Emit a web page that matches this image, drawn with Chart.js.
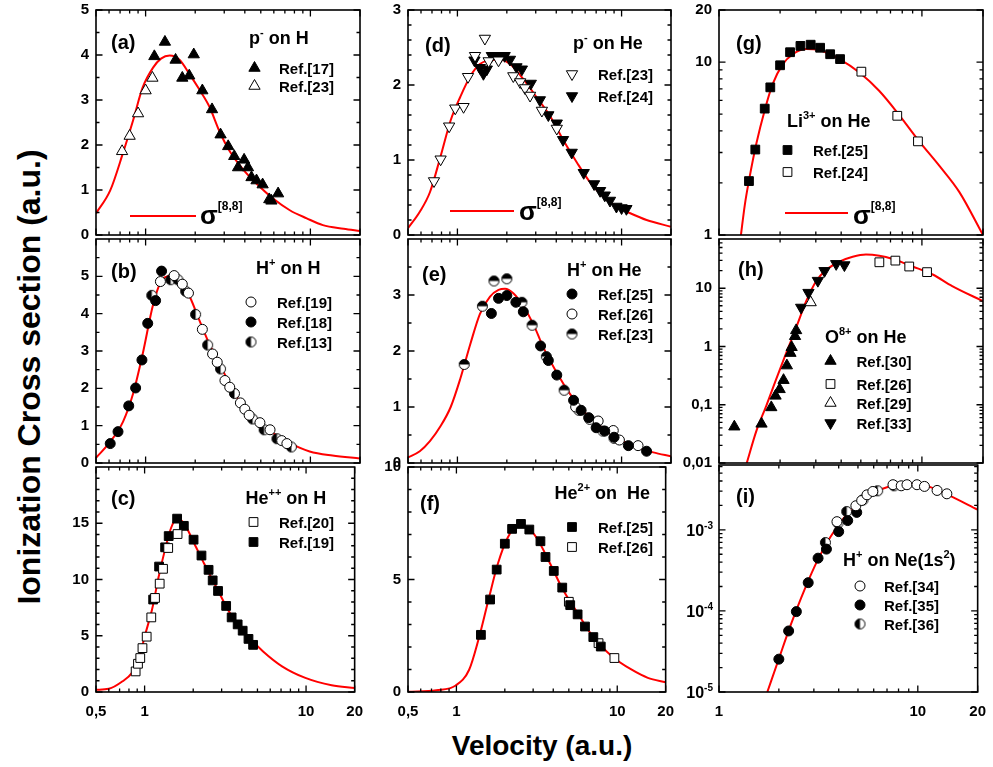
<!DOCTYPE html>
<html>
<head>
<meta charset="utf-8">
<title>Ionization cross sections</title>
<script src="https://cdn.jsdelivr.net/npm/chart.js@4.4.1/dist/chart.umd.min.js"></script>
<style>
  html, body { margin: 0; padding: 0; background: #fff; }
  #page { position: relative; width: 993px; height: 767px; overflow: hidden;
          font-family: "Liberation Sans", Arial, sans-serif; font-weight: bold; color: #000; }
  .panel { position: absolute; }
  #ytitle { position: absolute; left: 29px; top: 377px; transform: translate(-50%, -50%) rotate(-90deg);
            font-size: 32px; white-space: nowrap; }
  #xtitle { position: absolute; left: 542px; top: 746px; transform: translate(-50%, -50%);
            font-size: 28px; white-space: nowrap; }
</style>
</head>
<body>
<div id="page">
  <div id="ytitle">Ionization Cross section (a.u.)</div>
  <div id="xtitle">Velocity (a.u.)</div>
</div>
<script>
const FONT = '"Liberation Sans", Arial, sans-serif';

// ---- tick labels ----
const velTicks = [0.5, 1, 10, 20];
const velTicksFrom1 = [1, 10, 20];
const aTicks = [0, 1, 2, 3, 4, 5];
const bTicks = [0, 1, 2, 3, 4, 5];
const cTicks = [0, 5, 10, 15];
const dTicks = [0, 1, 2, 3];
const eTicks = [0, 1, 2, 3];
const fTicks = [0, 5, 10];
const gTicks = [1, 10, 20];
const hTicks = [0.01, 0.1, 1, 10];
const iTicks = [1e-5, 1e-4, 1e-3];
const iTickLabels = ['10^{-5}', '10^{-4}', '10^{-3}'];

// ---- (a) p- on H ----
const aRef17V = [1.13, 1.31, 1.52, 1.67, 1.84, 1.96, 2.21, 2.53, 2.85, 3.17, 3.45, 3.64, 3.96, 4.18, 4.39, 4.71, 5.13, 5.63, 5.8, 6.37];
const aRef17S = [3.97, 4.29, 3.89, 3.49, 3.54, 4.01, 3.21, 2.79, 2.23, 1.97, 1.75, 1.50, 1.67, 1.50, 1.28, 1.21, 1.12, 0.79, 0.76, 0.92];
const aRef23V = [0.72, 0.80, 0.90, 1.0, 1.10];
const aRef23S = [1.86, 2.2, 2.70, 3.21, 3.49];
const aCurveV = [0.5, 0.61, 0.73, 0.84, 0.96, 1.11, 1.24, 1.40, 1.60, 1.85, 2.13, 2.44, 2.81, 3.24, 3.90, 4.72, 5.94, 7.5, 9.5, 11.9, 15.9, 20];
const aCurveS = [0.48, 0.99, 1.83, 2.55, 3.28, 3.72, 3.92, 3.99, 3.90, 3.57, 3.22, 2.85, 2.30, 1.86, 1.46, 1.14, 0.81, 0.55, 0.37, 0.22, 0.14, 0.09];

// ---- (b) H+ on H ----
const bRef19V = [1.23, 1.49, 1.67, 1.82, 2.21, 2.55, 2.72, 3.03, 3.24, 3.76, 4.0, 4.25, 4.94, 5.69, 6.7, 7.2];
const bRef19S = [4.86, 5.02, 4.79, 4.55, 3.58, 2.92, 2.70, 2.21, 2.03, 1.61, 1.44, 1.28, 1.08, 0.89, 0.60, 0.52];
const bRef18V = [0.61, 0.68, 0.79, 0.87, 0.95, 1.03, 1.15, 1.25];
const bRef18S = [0.52, 0.84, 1.53, 2.01, 2.76, 3.74, 4.35, 5.14];
const bRef13V = [1.09, 1.42, 1.57, 1.75, 2.01, 2.38, 2.85, 3.46, 4.46, 5.24, 6.27, 7.66];
const bRef13S = [4.49, 4.91, 4.91, 4.60, 3.98, 3.16, 2.52, 1.86, 1.18, 0.89, 0.65, 0.43];
const bCurveV = [0.5, 0.6, 0.73, 0.84, 0.96, 1.11, 1.24, 1.40, 1.60, 1.85, 2.13, 2.44, 2.81, 3.24, 3.90, 4.72, 5.94, 7.5, 9.9, 13.6, 20];
const bCurveS = [0.14, 0.53, 1.11, 1.86, 2.92, 4.24, 4.86, 5.01, 4.91, 4.46, 3.80, 3.18, 2.65, 2.12, 1.50, 1.11, 0.80, 0.53, 0.31, 0.2, 0.12];

// ---- (c) He++ on H ----
const cRef20V = [0.88, 0.91, 0.94, 0.97, 1.03, 1.10, 1.16, 1.24, 1.30, 1.40, 1.60];
const cRef20S = [1.83, 2.51, 3.02, 3.9, 4.92, 6.63, 8.36, 9.63, 10.95, 12.8, 14.04];
const cRef19V = [1.13, 1.23, 1.34, 1.41, 1.59, 1.75, 2.01, 2.25, 2.49, 2.64, 2.85, 3.2, 3.46, 3.77, 4.05, 4.4, 4.7];
const cRef19S = [8.22, 11.15, 12.86, 13.86, 15.41, 14.77, 13.54, 12.13, 10.86, 9.92, 8.98, 7.65, 6.63, 6.01, 5.45, 4.72, 4.19];
const cCurveV = [0.5, 0.6, 0.73, 0.84, 0.92, 1.0, 1.11, 1.22, 1.34, 1.46, 1.59, 1.77, 2.03, 2.34, 2.81, 3.39, 4.29, 5.42, 7.1, 9.9, 14.4, 20];
const cCurveS = [0.2, 0.28, 0.95, 1.75, 2.87, 4.92, 7.28, 10.2, 12.7, 14.6, 15.5, 14.9, 13.2, 11.4, 9.19, 6.98, 5.07, 3.6, 2.28, 1.25, 0.6, 0.35];

// ---- (d) p- on He ----
const dRef23V = [0.72, 0.79, 0.89, 0.97, 1.09, 1.16, 1.28, 1.47, 1.55, 1.78, 2.19, 2.41, 2.58, 2.77, 3.27, 4.03];
const dRef23S = [0.72, 1.01, 1.45, 1.69, 1.71, 2.11, 2.39, 2.62, 2.32, 2.33, 2.12, 2.04, 1.96, 1.86, 1.66, 1.42];
const dRef24V = [1.27, 1.37, 1.44, 1.51, 1.62, 1.73, 1.85, 1.94, 2.09, 2.29, 2.47, 2.80, 3.18, 3.58, 4.03, 4.4, 4.97, 5.88, 6.8, 7.4, 7.9, 8.5, 9.3, 10.0, 10.7];
const dRef24S = [2.33, 2.23, 2.15, 2.21, 2.39, 2.39, 2.39, 2.39, 2.34, 2.24, 2.21, 2.02, 1.80, 1.60, 1.49, 1.27, 1.10, 0.83, 0.68, 0.59, 0.53, 0.46, 0.38, 0.36, 0.35];
const dCurveV = [0.5, 0.59, 0.68, 0.79, 0.91, 1.04, 1.20, 1.37, 1.58, 1.81, 2.09, 2.52, 3.03, 3.68, 4.4, 5.33, 6.44, 7.75, 9.3, 11.3, 14.2, 20];
const dCurveS = [0.09, 0.31, 0.57, 1.05, 1.53, 1.84, 2.12, 2.28, 2.33, 2.34, 2.28, 2.08, 1.84, 1.58, 1.27, 0.97, 0.70, 0.51, 0.38, 0.29, 0.20, 0.11];

// ---- (e) H+ on He ----
const eRef25V = [1.61, 1.78, 2.0, 2.27, 2.52, 3.21, 3.58, 4.03, 5.1, 5.67, 6.3, 7.0, 7.9, 9.0, 11.0, 14.2];
const eRef25S = [2.67, 2.94, 2.99, 2.87, 2.70, 2.09, 1.83, 1.57, 1.12, 0.94, 0.81, 0.63, 0.57, 0.46, 0.31, 0.21];
const eRef26V = [5.25, 7.2, 8.9, 9.7, 12.6];
const eRef26S = [1.00, 0.75, 0.58, 0.41, 0.31];
const eRef23V = [1.10, 1.42, 1.67, 2.0, 2.47, 2.85, 3.48, 4.47, 5.5, 6.4, 7.7, 9.0];
const eRef23S = [1.76, 2.80, 3.25, 3.29, 2.87, 2.46, 1.90, 1.30, 0.94, 0.78, 0.57, 0.44];
const eCurveV = [0.5, 0.59, 0.68, 0.79, 0.91, 1.04, 1.20, 1.37, 1.58, 1.78, 1.95, 2.19, 2.52, 2.9, 3.33, 4.03, 4.86, 5.88, 7.4, 9.3, 12.4, 15.6, 20];
const eCurveS = [0.10, 0.21, 0.39, 0.66, 1.00, 1.50, 2.13, 2.66, 2.97, 3.09, 3.11, 3.03, 2.80, 2.48, 2.07, 1.61, 1.23, 0.92, 0.66, 0.45, 0.28, 0.19, 0.12];

// ---- (f) He2+ on He ----
const fRef25V = [1.42, 1.62, 1.78, 2.0, 2.22, 2.52, 2.84, 3.33, 3.58, 4.03, 4.55, 5.1, 5.67, 6.3, 7.1, 7.9];
const fRef25S = [2.54, 4.11, 5.44, 6.59, 7.25, 7.47, 7.22, 6.70, 6.0, 5.38, 4.64, 3.86, 3.45, 2.91, 2.44, 2.02];
const fRef26V = [5.0, 7.65, 9.6];
const fRef26S = [4.01, 2.17, 1.51];
const fCurveV = [0.5, 0.75, 0.99, 1.20, 1.37, 1.58, 1.81, 2.09, 2.41, 2.77, 3.18, 3.83, 4.61, 5.6, 7.06, 9.3, 12.3, 15.5, 20];
const fCurveS = [0.01, 0.08, 0.29, 0.99, 2.32, 4.08, 5.7, 6.88, 7.39, 7.32, 6.81, 5.7, 4.53, 3.57, 2.46, 1.58, 0.99, 0.63, 0.43];

// ---- (g) Li3+ on He ----
const gRef25V = [1.405, 1.51, 1.68, 1.79, 2.0, 2.24, 2.52, 2.83, 3.15, 3.53, 3.95];
const gRef25S = [2.05, 3.12, 5.38, 7.14, 9.58, 11.4, 12.4, 12.6, 12.1, 11.1, 10.4];
const gRef24V = [5.03, 7.56, 9.56];
const gRef24S = [8.8, 4.89, 3.48];
const gCurveV = [1.28, 1.34, 1.41, 1.53, 1.68, 1.84, 2.06, 2.31, 2.69, 3.13, 3.92, 4.92, 6.17, 7.73, 9.7, 12.2, 15.3, 20];
const gCurveS = [0.98, 1.49, 2.11, 3.4, 5.27, 7.47, 9.7, 11.1, 11.9, 11.7, 10.4, 8.7, 6.8, 4.94, 3.48, 2.51, 1.77, 1.0];

// ---- (h) O8+ on He ----
const hRef30V = [1.19, 1.62, 1.81, 1.90, 1.99, 2.08, 2.16, 2.25, 2.28, 2.37, 2.40];
const hRef30S = [0.042, 0.047, 0.090, 0.142, 0.184, 0.264, 0.47, 0.77, 0.97, 1.50, 1.89];
const hRef26V = [6.17, 7.4, 8.66, 10.6];
const hRef26S = [27.9, 29.8, 23.6, 18.9];
const hRef29V = [2.83];
const hRef29S = [5.7];
const hRef33V = [2.54, 2.76, 3.07, 3.31, 3.78, 4.15];
const hRef33S = [4.67, 8.4, 13.5, 19.9, 26.2, 25];
const hCurveV = [1.37, 1.53, 1.71, 1.91, 2.14, 2.40, 2.69, 3.01, 3.37, 3.92, 4.56, 5.3, 6.17, 7.18, 9.0, 11.3, 14.1, 20];
const hCurveS = [0.01, 0.036, 0.096, 0.27, 0.76, 2.1, 6.0, 13.2, 20.5, 28.5, 34.6, 37.8, 36, 31.7, 23.6, 17.2, 10.9, 6.0];

// ---- (i) H+ on Ne(1s2) ----
const iRef34V = [3.92, 4.88, 5.22, 5.55, 5.94, 7.5, 8.25, 8.82, 9.9, 10.8, 12.5, 14.0];
const iRef34S = [1.26e-3, 1.98e-3, 2.3e-3, 2.7e-3, 2.97e-3, 3.6e-3, 3.49e-3, 3.6e-3, 3.6e-3, 3.43e-3, 3.06e-3, 2.78e-3];
const iRef35V = [2.0, 2.24, 2.45, 2.81, 3.15, 3.47, 4.0, 4.44, 4.93];
const iRef35S = [2.54e-5, 5.66e-5, 9.8e-5, 2.23e-4, 4.47e-4, 5.78e-4, 9.5e-4, 1.30e-3, 1.64e-3];
const iRef36V = [3.43, 3.97, 4.39, 5.3, 6.28, 7.6];
const iRef36S = [6.97e-4, 1.21e-3, 1.68e-3, 2.34e-3, 3.03e-3, 3.49e-3];
const iCurveV = [1.75, 1.99, 2.31, 2.69, 3.13, 3.64, 4.24, 4.93, 5.94, 7.18, 9.0, 11.3, 14.1, 20];
const iCurveS = [1.0e-5, 2.48e-5, 7.0e-5, 1.82e-4, 4.2e-4, 8.2e-4, 1.39e-3, 2.02e-3, 2.83e-3, 3.43e-3, 3.7e-3, 3.43e-3, 2.71e-3, 1.77e-3];

// ---- layout ----
const COLS = [{x: 96, w: 264}, {x: 408, w: 263}, {x: 719, w: 264}];
const ROWS = [{y: 8, h: 229}, {y: 237, h: 228}, {y: 465, h: 227}];
const PAD = {l: 58, t: 14, r: 14, b: 14, axis: 34};

// half filled open circle, used as an image point style
function halfDisc(side) {
  const r = 5, s = 2 * r + 3;
  const c = document.createElement('canvas');
  c.width = s; c.height = s;
  const g = c.getContext('2d');
  g.beginPath(); g.arc(s / 2, s / 2, r, 0, 2 * Math.PI);
  g.fillStyle = '#fff'; g.fill();
  g.save(); g.clip();
  g.fillStyle = '#000';
  if (side === 'left') g.fillRect(0, 0, s / 2, s); else g.fillRect(0, 0, s, s / 2);
  g.restore();
  g.beginPath(); g.arc(s / 2, s / 2, r, 0, 2 * Math.PI);
  g.lineWidth = 1; g.strokeStyle = '#000'; g.stroke();
  return c;
}

const MARK = {
  triUp:       {pointStyle: 'triangle', pointRadius: 6.5, pointRotation: 0, pointBackgroundColor: '#000'},
  triUpOpen:   {pointStyle: 'triangle', pointRadius: 6.5, pointRotation: 0, pointBackgroundColor: '#fff'},
  triDown:     {pointStyle: 'triangle', pointRadius: 6.5, pointRotation: 180, pointBackgroundColor: '#000'},
  triDownOpen: {pointStyle: 'triangle', pointRadius: 6.5, pointRotation: 180, pointBackgroundColor: '#fff'},
  sq:          {pointStyle: 'rect', pointRadius: 6.2, pointRotation: 0, pointBackgroundColor: '#000'},
  sqOpen:      {pointStyle: 'rect', pointRadius: 6.2, pointRotation: 0, pointBackgroundColor: '#fff'},
  dot:         {pointStyle: 'circle', pointRadius: 5, pointRotation: 0, pointBackgroundColor: '#000'},
  dotOpen:     {pointStyle: 'circle', pointRadius: 5, pointRotation: 0, pointBackgroundColor: '#fff'},
  halfLeft:    {pointStyle: halfDisc('left'), pointRadius: 5, pointRotation: 0, pointBackgroundColor: '#fff'},
  halfTop:     {pointStyle: halfDisc('top'), pointRadius: 5, pointRotation: 0, pointBackgroundColor: '#fff'}
};

const panels = [
  {id: 'a', col: 0, row: 0, xTicks: velTicks, yMin: 0, yMax: 5, yTicks: aTicks, yStep: 0.5,
   series: [['Ref.[17]', aRef17V, aRef17S, 'triUp'], ['Ref.[23]', aRef23V, aRef23S, 'triUpOpen']],
   curve: [aCurveV, aCurveS],
   art: {letter: [15, 39], title: 'p^{-} on H', titleAt: [153, 34], legX: 158.5, legTX: 183, legY: [58, 76],
         sigma: {x1: 34, x2: 100, y: 206, tx: 104, ty: 214}}},
  {id: 'b', col: 0, row: 1, xTicks: velTicks, yMin: 0, yMax: 6, yTicks: bTicks, yStep: 0.5,
   series: [['Ref.[19]', bRef19V, bRef19S, 'dotOpen'], ['Ref.[18]', bRef18V, bRef18S, 'dot'], ['Ref.[13]', bRef13V, bRef13S, 'halfLeft']],
   curve: [bCurveV, bCurveS],
   art: {letter: [15, 39], title: 'H^{+} on H', titleAt: [160, 35], legX: 155, legTX: 181, legY: [63, 83, 103]}},
  {id: 'c', col: 0, row: 2, xTicks: velTicks, yMin: 0, yMax: 20, yTicks: cTicks, yStep: 1,
   series: [['Ref.[20]', cRef20V, cRef20S, 'sqOpen'], ['Ref.[19]', cRef19V, cRef19S, 'sq']],
   curve: [cCurveV, cCurveS],
   art: {letter: [15, 38], title: 'He^{++} on H', titleAt: [149.5, 37], legX: 157.5, legTX: 183, legY: [55, 75]}},
  {id: 'd', col: 1, row: 0, xTicks: velTicks, yMin: 0, yMax: 3, yTicks: dTicks, yStep: 0.2,
   series: [['Ref.[23]', dRef23V, dRef23S, 'triDownOpen'], ['Ref.[24]', dRef24V, dRef24S, 'triDown']],
   curve: [dCurveV, dCurveS],
   art: {letter: [17, 42], title: 'p^{-} on He', titleAt: [165, 38.5], legX: 164, legTX: 190, legY: [64, 86],
         sigma: {x1: 42, x2: 106, y: 201, tx: 111, ty: 210}}},
  {id: 'e', col: 1, row: 1, xTicks: velTicks, yMin: 0, yMax: 4, yTicks: eTicks, yStep: 0.5,
   series: [['Ref.[25]', eRef25V, eRef25S, 'dot'], ['Ref.[26]', eRef26V, eRef26S, 'dotOpen'], ['Ref.[23]', eRef23V, eRef23S, 'halfTop']],
   curve: [eCurveV, eCurveS],
   art: {letter: [14, 42], title: 'H^{+} on He', titleAt: [159, 37], legX: 164, legTX: 190, legY: [55, 75, 95]}},
  {id: 'f', col: 1, row: 2, xTicks: velTicks, yMin: 0, yMax: 10, yTicks: fTicks, yStep: 1,
   series: [['Ref.[25]', fRef25V, fRef25S, 'sq'], ['Ref.[26]', fRef26V, fRef26S, 'sqOpen']],
   curve: [fCurveV, fCurveS],
   art: {letter: [12, 43], title: 'He^{2+} on  He', titleAt: [146.5, 32], legX: 164, legTX: 190, legY: [60, 80]}},
  {id: 'g', col: 2, row: 0, xTicks: velTicksFrom1, yLog: true, yMin: 1, yMax: 20, yTicks: gTicks,
   series: [['Ref.[25]', gRef25V, gRef25S, 'sq'], ['Ref.[24]', gRef24V, gRef24S, 'sqOpen']],
   curve: [gCurveV, gCurveS],
   art: {letter: [17, 40], title: 'Li^{3+} on He', titleAt: [68, 117], legX: 68.5, legTX: 94, legY: [140, 162],
         sigma: {x1: 66, x2: 129, y: 203, tx: 134, ty: 214}}},
  {id: 'h', col: 2, row: 1, xTicks: velTicksFrom1, yLog: true, yMin: 0.01, yMax: 70, yTicks: hTicks,
   series: [['Ref.[30]', hRef30V, hRef30S, 'triUp'], ['Ref.[26]', hRef26V, hRef26S, 'sqOpen'],
            ['Ref.[29]', hRef29V, hRef29S, 'triUpOpen'], ['Ref.[33]', hRef33V, hRef33S, 'triDown']],
   curve: [hCurveV, hCurveS],
   art: {letter: [19, 37], title: 'O^{8+} on He', titleAt: [106, 104], legX: 111.5, legTX: 137.5, legY: [122, 145, 164, 184]}},
  {id: 'i', col: 2, row: 2, xTicks: velTicksFrom1, yLog: true, yMin: 1e-5, yMax: 6.3e-3, yTicks: iTicks, yLabels: iTickLabels,
   series: [['Ref.[34]', iRef34V, iRef34S, 'dotOpen'], ['Ref.[35]', iRef35V, iRef35S, 'dot'], ['Ref.[36]', iRef36V, iRef36S, 'halfLeft']],
   curve: [iCurveV, iCurveS],
   art: {letter: [17, 38], title: 'H^{+} on Ne(1s^{2})', titleAt: [124, 101], legX: 141, legTX: 165, legY: [121, 140, 159]}}
];

const fmt = v => String(v).replace('.', ',');

// text with ^{...} superscripts
function drawRich(ctx, str, x, y, size, o = {}) {
  const supSize = o.supSize || Math.round(size * 0.62);
  const raise = o.raise || size * 0.45;
  const parts = str.split(/\^\{([^}]*)\}/);
  const fN = `bold ${size}px ${FONT}`, fS = `bold ${supSize}px ${FONT}`;
  let w = 0;
  parts.forEach((t, i) => { ctx.font = i % 2 ? fS : fN; w += ctx.measureText(t).width; });
  let cx = o.align === 'right' ? x - w : x;
  ctx.textAlign = 'left';
  ctx.textBaseline = 'alphabetic';
  parts.forEach((t, i) => {
    ctx.font = i % 2 ? fS : fN;
    ctx.fillText(t, cx, i % 2 ? y - raise : y);
    cx += ctx.measureText(t).width;
  });
}

function minorValues(min, max, isLog, step) {
  const out = [];
  if (isLog) {
    for (let d = Math.floor(Math.log10(min)); d <= Math.ceil(Math.log10(max)); d++) {
      for (let m = 2; m <= 9; m++) {
        const v = m * Math.pow(10, d);
        if (v > min * 1.0001 && v < max * 0.9999) out.push(v);
      }
    }
  } else {
    for (let v = min + step; v < max - 1e-9; v += step) out.push(+v.toFixed(6));
  }
  return out;
}

const PANEL_OF = {};

// frame, inward ticks, panel texts and legend
const panelArt = {
  id: 'panelArt',
  afterDraw(chart) {
    const p = PANEL_OF[chart.canvas.id];
    if (!p) return;
    const {ctx, chartArea: a} = chart;
    const xs = chart.scales.x, ys = chart.scales.y;
    ctx.save();
    ctx.strokeStyle = '#000';
    ctx.lineWidth = 1.3;
    ctx.beginPath();
    const xMaj = p.xTicks, xMin = minorValues(p.xTicks[0], p.xTicks[p.xTicks.length - 1], true);
    const yMin = minorValues(p.yMin, p.yMax, !!p.yLog, p.yStep);
    const xMark = (v, len) => {
      const px = xs.getPixelForValue(v);
      ctx.moveTo(px, a.bottom); ctx.lineTo(px, a.bottom - len);
      ctx.moveTo(px, a.top); ctx.lineTo(px, a.top + len);
    };
    const yMark = (v, len) => {
      const py = ys.getPixelForValue(v);
      ctx.moveTo(a.left, py); ctx.lineTo(a.left + len, py);
      ctx.moveTo(a.right, py); ctx.lineTo(a.right - len, py);
    };
    xMin.forEach(v => xMark(v, 3.5));
    xMaj.forEach(v => xMark(v, 6.5));
    yMin.forEach(v => yMark(v, 3.5));
    p.yTicks.forEach(v => yMark(v, 6.5));
    ctx.stroke();
    ctx.lineWidth = 1.6;
    ctx.strokeRect(a.left, a.top, a.right - a.left, a.bottom - a.top);

    ctx.fillStyle = '#000';
    // y labels with superscripts
    if (p.yLabels) {
      p.yTicks.forEach((v, i) => {
        drawRich(ctx, p.yLabels[i], a.left - 6, ys.getPixelForValue(v) + 6, 16, {supSize: 10, raise: 7, align: 'right'});
      });
    }
    const art = p.art;
    drawRich(ctx, '(' + p.id + ')', a.left + art.letter[0], a.top + art.letter[1], 20);
    drawRich(ctx, art.title, a.left + art.titleAt[0], a.top + art.titleAt[1], 18, {supSize: 11, raise: 8});

    // legend of the data series
    p.series.forEach((s, i) => {
      const m = MARK[s[3]];
      const x = a.left + art.legX, y = a.top + art.legY[i];
      ctx.fillStyle = m.pointBackgroundColor;
      ctx.strokeStyle = '#000';
      ctx.lineWidth = 1;
      Chart.helpers.drawPoint(ctx, {pointStyle: m.pointStyle, rotation: m.pointRotation, radius: m.pointRadius, borderWidth: 1}, x, y);
      ctx.fillStyle = '#000';
      drawRich(ctx, s[0], a.left + art.legTX, y + 5.5, 15);
    });

    if (art.sigma) {
      const sg = art.sigma;
      ctx.strokeStyle = '#ff0000';
      ctx.lineWidth = 2;
      ctx.beginPath();
      ctx.moveTo(a.left + sg.x1, a.top + sg.y);
      ctx.lineTo(a.left + sg.x2, a.top + sg.y);
      ctx.stroke();
      ctx.fillStyle = '#000';
      drawRich(ctx, 'σ^{[8,8]}', a.left + sg.tx, a.top + sg.ty, 26, {supSize: 12, raise: 14});
    }
    ctx.restore();
  }
};

const page = document.getElementById('page');

panels.forEach(p => {
  const col = COLS[p.col], row = ROWS[p.row];
  const bottom = p.row === 2;
  const W = col.w + PAD.l + PAD.r;
  const H = row.h + PAD.t + (bottom ? PAD.axis : PAD.b);
  const box = document.createElement('div');
  box.className = 'panel';
  box.style.left = (col.x - PAD.l) + 'px';
  box.style.top = (row.y - PAD.t) + 'px';
  const cv = document.createElement('canvas');
  cv.id = 'panel-' + p.id;
  cv.width = W; cv.height = H;
  cv.style.width = W + 'px'; cv.style.height = H + 'px';
  box.appendChild(cv);
  page.appendChild(box);
  PANEL_OF[cv.id] = p;

  const datasets = p.series.map(s => Object.assign({
    type: 'scatter',
    label: s[0],
    data: s[1].map((v, i) => ({x: v, y: s[2][i]})),
    showLine: false,
    pointBorderColor: '#000',
    pointBorderWidth: 1
  }, MARK[s[3]]));
  datasets.push({
    type: 'line',
    label: 'sigma[8,8]',
    data: p.curve[0].map((v, i) => ({x: v, y: p.curve[1][i]})),
    borderColor: '#ff0000',
    borderWidth: 2,
    pointRadius: 0,
    fill: false,
    cubicInterpolationMode: 'monotone',
    clip: 0
  });

  const tickFont = {family: FONT, size: 15, weight: 'bold'};
  new Chart(cv, {
    data: {datasets},
    options: {
      responsive: false,
      animation: false,
      layout: {padding: {left: 0, top: PAD.t, right: PAD.r, bottom: bottom ? 0 : PAD.b}},
      plugins: {legend: {display: false}, tooltip: {enabled: false}},
      scales: {
        x: {
          type: 'logarithmic',
          min: p.xTicks[0],
          max: p.xTicks[p.xTicks.length - 1],
          afterBuildTicks: s => { s.ticks = p.xTicks.map(v => ({value: v})); },
          afterFit: s => { s.height = bottom ? PAD.axis : 0; },
          grid: {display: false, drawTicks: false},
          border: {display: false},
          ticks: {display: bottom, autoSkip: false, maxRotation: 0, padding: 11, color: '#000',
                  font: tickFont, callback: v => fmt(v)}
        },
        y: {
          type: p.yLog ? 'logarithmic' : 'linear',
          min: p.yMin,
          max: p.yMax,
          afterBuildTicks: s => { s.ticks = p.yTicks.map(v => ({value: v})); },
          afterFit: s => { s.width = PAD.l; },
          grid: {display: false, drawTicks: false},
          border: {display: false},
          ticks: {display: !p.yLabels, autoSkip: false, padding: 7, color: '#000',
                  font: tickFont, callback: v => fmt(v)}
        }
      }
    },
    plugins: [panelArt]
  });
});
</script>
</body>
</html>
